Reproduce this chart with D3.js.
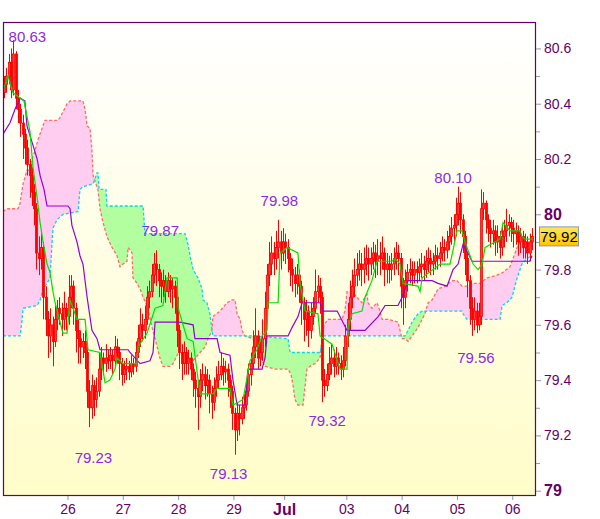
<!DOCTYPE html>
<html><head><meta charset="utf-8">
<script src="https://cdn.jsdelivr.net/npm/d3@7"></script>
<style>body{margin:0;background:#fff}svg{display:block}</style>
</head><body><svg id="c" width="600" height="519"></svg>
<script>
// ---------- DATA ----------
const firstOpen = 80.44;
const closes = [
80.47,80.50,80.55,80.45,80.58,80.42,80.38,80.33,80.29,80.24,
80.18,80.14,80.08,80.02,79.86,79.84,79.88,79.70,79.62,79.56,
79.60,79.54,79.62,79.66,79.64,79.62,79.66,79.63,79.70,79.74,
79.66,79.58,79.55,79.52,79.54,79.50,79.36,79.30,79.38,79.33,
79.36,79.44,79.48,79.46,79.48,79.47,79.49,79.47,79.52,79.50,
79.46,79.42,79.44,79.45,79.43,79.46,79.45,79.50,79.55,79.60,
79.58,79.62,79.70,79.72,79.78,79.82,79.80,79.76,79.74,79.76,
79.72,79.76,79.73,79.74,79.70,79.58,79.50,79.46,79.50,79.46,
79.48,79.44,79.40,79.37,79.34,79.40,79.42,79.38,79.40,79.35,
79.32,79.37,79.40,79.42,79.45,79.43,79.44,79.40,79.36,79.28,
79.22,79.28,79.26,79.30,79.31,79.36,79.42,79.46,79.52,79.56,
79.48,79.50,79.55,79.66,79.78,79.82,79.86,79.84,79.88,79.90,
79.86,79.90,79.88,79.84,79.80,79.78,79.75,79.78,79.74,79.68,
79.62,79.65,79.58,79.63,79.66,79.72,79.74,79.70,79.40,79.38,
79.42,79.46,79.48,79.45,79.48,79.46,79.44,79.47,79.56,79.62,
79.70,79.74,79.78,79.80,79.82,79.80,79.82,79.84,79.82,79.84,
79.86,79.83,79.85,79.84,79.86,79.80,79.82,79.80,79.82,79.84,
79.86,79.84,79.74,79.70,79.76,79.79,79.80,79.78,79.80,79.79,
79.81,79.82,79.80,79.83,79.84,79.82,79.83,79.85,79.84,79.86,
79.88,79.87,79.90,79.92,79.95,79.96,80.00,80.04,79.98,79.92,
79.84,79.76,79.66,79.62,79.65,79.60,79.63,80.02,80.04,79.98,
79.95,79.93,79.94,79.90,79.92,79.88,79.92,79.94,79.96,79.97,
79.95,79.93,79.94,79.90,79.92,79.88,79.90,79.86,79.90,79.92];
const highs = [
80.50,80.53,80.58,80.60,80.63,80.59,80.45,80.40,80.36,80.31,
80.27,80.20,80.17,80.11,80.04,79.92,79.93,79.90,79.74,79.65,
79.66,79.63,79.67,79.69,79.70,79.68,79.72,79.68,79.78,79.78,
79.76,79.68,79.62,79.58,79.57,79.58,79.52,79.40,79.42,79.40,
79.41,79.50,79.52,79.50,79.53,79.51,79.52,79.51,79.56,79.55,
79.52,79.48,79.47,79.48,79.47,79.49,79.48,79.54,79.60,79.66,
79.64,79.67,79.74,79.76,79.82,79.86,79.87,79.82,79.79,79.80,
79.78,79.79,79.78,79.77,79.76,79.72,79.60,79.53,79.54,79.52,
79.51,79.50,79.46,79.43,79.40,79.44,79.46,79.45,79.44,79.42,
79.38,79.41,79.45,79.47,79.50,79.48,79.47,79.46,79.42,79.38,
79.30,79.32,79.31,79.34,79.35,79.40,79.46,79.50,79.58,79.66,
79.58,79.54,79.62,79.72,79.82,79.90,79.92,79.90,79.94,79.98,
79.94,79.95,79.93,79.91,79.86,79.84,79.81,79.82,79.80,79.76,
79.70,79.69,79.67,79.68,79.70,79.80,79.78,79.77,79.72,79.44,
79.46,79.52,79.53,79.51,79.52,79.50,79.49,79.52,79.60,79.68,
79.76,79.80,79.84,79.86,79.87,79.86,79.88,79.89,79.88,79.88,
79.90,79.89,79.91,79.90,79.92,79.88,79.86,79.85,79.86,79.88,
79.90,79.89,79.86,79.77,79.80,79.82,79.84,79.83,79.83,79.83,
79.84,79.86,79.85,79.87,79.88,79.87,79.86,79.89,79.88,79.90,
79.92,79.91,79.94,79.96,79.99,80.00,80.06,80.10,80.08,80.00,
79.94,79.86,79.78,79.70,79.70,79.68,79.68,80.09,80.08,80.05,
80.00,79.98,79.98,79.96,79.96,79.94,79.96,79.98,80.02,80.00,
79.99,79.98,79.97,79.96,79.95,79.94,79.93,79.92,79.93,79.95];
const lows = [
80.42,80.44,80.47,80.42,80.43,80.38,80.33,80.28,80.20,80.18,
80.14,80.06,80.03,79.96,79.80,79.78,79.80,79.62,79.56,79.48,
79.50,79.45,79.52,79.58,79.60,79.56,79.58,79.58,79.60,79.66,
79.60,79.50,79.46,79.46,79.48,79.44,79.30,79.23,79.26,79.27,
79.30,79.34,79.40,79.42,79.43,79.44,79.44,79.42,79.45,79.46,
79.40,79.38,79.39,79.40,79.40,79.41,79.42,79.43,79.48,79.52,
79.54,79.55,79.60,79.66,79.70,79.75,79.74,79.70,79.68,79.70,
79.68,79.70,79.68,79.66,79.64,79.52,79.44,79.40,79.42,79.42,
79.42,79.40,79.34,79.30,79.22,79.30,79.36,79.33,79.34,79.28,
79.26,79.29,79.34,79.37,79.40,79.38,79.39,79.34,79.30,79.22,
79.13,79.18,79.20,79.24,79.26,79.29,79.34,79.38,79.44,79.48,
79.44,79.45,79.47,79.52,79.62,79.74,79.78,79.78,79.80,79.84,
79.80,79.83,79.82,79.79,79.74,79.72,79.70,79.71,79.68,79.60,
79.54,79.56,79.52,79.55,79.60,79.64,79.68,79.64,79.32,79.34,
79.36,79.40,79.42,79.41,79.42,79.42,79.40,79.41,79.45,79.52,
79.58,79.66,79.70,79.74,79.76,79.74,79.75,79.78,79.76,79.78,
79.80,79.77,79.78,79.78,79.80,79.74,79.75,79.75,79.76,79.78,
79.80,79.78,79.66,79.60,79.66,79.72,79.75,79.74,79.75,79.75,
79.76,79.77,79.76,79.77,79.79,79.78,79.78,79.80,79.80,79.81,
79.83,79.83,79.84,79.87,79.89,79.90,79.92,79.96,79.93,79.86,
79.78,79.70,79.60,79.56,79.58,79.57,79.58,79.60,79.98,79.93,
79.90,79.88,79.89,79.85,79.86,79.84,79.85,79.88,79.90,79.92,
79.90,79.88,79.89,79.85,79.86,79.84,79.84,79.82,79.83,79.87];

// Ichimoku lines: [candle index, price]
const tenkan = [[0,80.45],[2.2,80.50],[4.3,80.44],[9.1,80.41],[11.7,80.30],[13.0,80.17],[14.8,80.06],[16.1,79.97],[17.4,79.90],[19.1,79.82],[20.4,79.79],[21.7,79.72],[22.6,79.68],[23.9,79.64],[26.0,79.57],[27.8,79.57],[29.1,79.69],[30.4,79.66],[32.1,79.62],[35.6,79.62],[36.9,79.51],[42.1,79.50],[44.3,79.39],[46.4,79.40],[48.6,79.44],[49.5,79.48],[52.1,79.46],[58.2,79.46],[58.6,79.52],[62.5,79.57],[66.0,79.66],[69.4,79.67],[71.2,79.77],[75.6,79.77],[76.0,79.66],[79.9,79.55],[82.5,79.54],[85.5,79.35],[91.1,79.35],[92.9,79.37],[98.5,79.37],[99.8,79.31],[104.2,79.33],[107.2,79.47],[110.2,79.51],[112.4,79.56],[114.6,79.58],[115.0,79.68],[119.4,79.68],[120.2,79.86],[123.3,79.88],[128.0,79.86],[128.9,79.75],[131.1,79.65],[136.7,79.64],[137.6,79.56],[142.8,79.53],[146.3,79.44],[149.3,79.44],[149.7,79.59],[151.5,79.64],[155.8,79.65],[157.1,79.70],[160.1,79.76],[162.3,79.83],[168.8,79.83],[170.1,79.84],[172.3,79.82],[173.6,79.75],[180.1,79.74],[181.0,79.72],[181.9,79.77],[189.7,79.82],[194.0,79.82],[195.3,79.87],[197.0,79.94],[199.2,79.94],[200.5,79.90],[201.8,79.87],[204.0,79.82],[206.2,79.80],[207.9,79.82],[209.2,79.88],[215.7,79.91],[217.0,79.97],[220.0,79.94],[224.4,79.94],[225.2,79.92],[226.5,79.91],[229.5,79.91]];
const kijun = [[0,80.29],[3.0,80.33],[5.2,80.38],[7.4,80.42],[9.5,80.41],[10.4,80.32],[13.0,80.25],[14.8,80.20],[16.1,80.14],[17.8,80.09],[19.1,80.03],[28.2,80.03],[29.1,80.02],[29.9,79.96],[32.1,79.90],[33.4,79.85],[34.7,79.82],[36.5,79.70],[38.6,79.58],[40.8,79.55],[42.1,79.51],[54.3,79.51],[55.1,79.50],[59.5,79.46],[63.8,79.47],[65.1,79.50],[66.0,79.61],[76.8,79.61],[82.5,79.60],[83.3,79.55],[92.9,79.55],[94.2,79.50],[98.5,79.49],[99.8,79.40],[101.6,79.31],[105.0,79.31],[106.3,79.44],[112.4,79.44],[113.7,79.48],[114.6,79.56],[123.7,79.56],[125.4,79.59],[128.0,79.63],[129.8,79.68],[137.6,79.68],[138.9,79.65],[145.0,79.65],[149.3,79.58],[157.1,79.58],[162.8,79.63],[165.8,79.67],[171.4,79.67],[173.2,79.70],[175.8,79.76],[186.2,79.76],[188.8,79.75],[192.7,79.74],[195.3,79.80],[197.5,79.82],[199.6,79.89],[201.8,79.86],[203.5,79.83],[228.6,79.83],[229.5,79.85]];
const spanA = [[0,80.01],[1.7,80.02],[6.5,80.02],[7.4,80.04],[8.7,80.11],[10.4,80.16],[11.7,80.16],[12.6,80.20],[13.9,80.23],[15.2,80.27],[16.9,80.31],[18.2,80.34],[23.9,80.34],[24.7,80.35],[26.0,80.37],[27.8,80.40],[29.1,80.41],[30.4,80.41],[32.6,80.41],[33.4,80.41],[34.7,80.41],[35.6,80.38],[36.5,80.32],[37.8,80.31],[38.6,80.23],[39.1,80.14],[41.2,80.09],[42.1,80.02],[43.4,79.97],[45.1,79.92],[47.3,79.88],[49.5,79.85],[50.8,79.81],[52.1,79.82],[53.8,79.83],[54.3,79.88],[56.0,79.86],[56.4,79.77],[58.2,79.75],[59.5,79.73],[60.8,79.70],[62.9,79.66],[64.7,79.59],[66.0,79.55],[68.1,79.48],[69.4,79.45],[72.5,79.45],[73.8,79.46],[76.8,79.51],[79.9,79.48],[82.5,79.47],[85.5,79.50],[87.7,79.52],[89.0,79.55],[90.7,79.58],[91.1,79.63],[94.2,79.65],[97.2,79.68],[99.4,79.69],[100.7,79.69],[101.6,79.64],[102.9,79.62],[103.7,79.58],[105.0,79.56],[108.5,79.55],[110.7,79.51],[112.4,79.47],[113.7,79.45],[118.0,79.44],[123.7,79.44],[125.0,79.42],[125.9,79.38],[126.7,79.33],[128.0,79.31],[130.2,79.31],[131.1,79.38],[131.9,79.44],[133.2,79.45],[135.4,79.46],[137.6,79.48],[138.4,79.55],[139.3,79.60],[141.1,79.62],[147.1,79.62],[148.4,79.65],[149.3,79.72],[151.5,79.72],[153.6,79.70],[155.8,79.68],[157.1,79.70],[158.0,79.71],[158.4,79.68],[160.1,79.66],[162.3,79.68],[163.6,79.65],[164.5,79.62],[167.1,79.62],[171.4,79.61],[173.2,79.55],[174.5,79.55],[175.8,79.54],[177.5,79.56],[180.1,79.59],[181.9,79.62],[183.1,79.64],[184.5,79.68],[186.2,79.69],[188.8,79.73],[191.8,79.74],[194.9,79.76],[197.0,79.76],[199.2,79.74],[201.4,79.74],[203.5,79.75],[207.0,79.75],[210.1,79.77],[214.4,79.78],[217.0,79.79],[220.0,79.81],[223.1,79.88],[224.4,79.90],[226.5,79.90],[228.6,79.89]];
const spanB = [[0,79.56],[7.4,79.56],[8.2,79.61],[8.7,79.66],[14.8,79.67],[16.1,79.69],[17.4,79.73],[19.1,79.75],[20.4,79.77],[21.3,79.90],[21.7,79.95],[23.4,79.98],[26.0,80.00],[32.6,80.01],[33.4,80.09],[34.7,80.10],[39.1,80.11],[40.8,80.15],[41.2,80.15],[41.7,80.09],[44.7,80.09],[45.1,80.03],[60.8,80.03],[61.6,79.93],[79.0,79.93],[80.3,79.89],[81.2,79.85],[82.5,79.80],[84.6,79.77],[86.4,79.73],[86.8,79.69],[88.5,79.68],[89.8,79.64],[90.7,79.58],[91.1,79.56],[108.5,79.56],[123.7,79.55],[124.6,79.50],[137.6,79.50],[138.9,79.56],[174.5,79.56],[175.8,79.58],[177.5,79.61],[180.1,79.64],[181.9,79.65],[199.2,79.65],[199.6,79.64],[201.4,79.62],[215.7,79.62],[216.6,79.67],[218.7,79.68],[220.9,79.70],[223.1,79.77],[225.2,79.82],[227.4,79.84],[229.5,79.85]];

const dayTickIdx = [28,52,76,100,122,149,173,197,221];
const dayTickLabels = ["26","27","28","29","Jul","03","04","05","06"];
const priceTicks = [79.0,79.2,79.4,79.6,79.8,80.0,80.2,80.4,80.6];
const priceMinorTicks = [79.1,79.3,79.5,79.7,79.9,80.1,80.3,80.5];
const extremeLabels = ["80.63","79.23","79.87","79.13","79.98","79.32","80.10","79.56"];
const extremeIdx = [4,37,66,100,119,138,197,203];
const extremeValues = [80.63,79.23,79.87,79.13,79.98,79.32,80.10,79.56];
const lastPrice = 79.92;

// ---------- LAYOUT ----------
const L = 3, R = 535, T = 22, B = 495;
const nCandles = closes.length;
const extremeOffsets = [[14,2],[4,36],[4,-14],[-6,24],[1,-14],[5,24],[-5,-4],[4,27]];
const C = {candle:"#ff0000", tenkan:"#00e000", kijun:"#9400d3", spanA:"#ff6a6a", spanB:"#00d8ee",
  pink:"#ffcdef", green:"#b3ff9f", frame:"#660066", tick:"#8899aa", ann:"#8a2be2"};
const FONT = "'Liberation Sans', Arial, sans-serif";

const svg = d3.select("#c");
const x = d3.scaleLinear().domain([0, nCandles]).range([L, 533]);
const y = d3.scaleLinear().domain([79.0, 80.2]).range([490.7, 159]);

const defs = svg.append("defs");
const grad = defs.append("linearGradient").attr("id","bg").attr("x1",0).attr("y1",0).attr("x2",0).attr("y2",1);
grad.append("stop").attr("offset","0%").attr("stop-color","#ffffff");
grad.append("stop").attr("offset","100%").attr("stop-color","#fffdc9");
const ygrad = defs.append("linearGradient").attr("id","yb").attr("x1",0).attr("y1",0).attr("x2",0).attr("y2",1);
ygrad.append("stop").attr("offset","0%").attr("stop-color","#ffe85a");
ygrad.append("stop").attr("offset","100%").attr("stop-color","#ffc400");
defs.append("clipPath").attr("id","plot").append("rect").attr("x",L).attr("y",T).attr("width",R-L).attr("height",B-T);

svg.append("rect").attr("x",L).attr("y",T).attr("width",R-L).attr("height",B-T).attr("fill","url(#bg)");

const areaUp = d3.area().x(d=>x(d[0])).y0(T).y1(d=>y(d[1]));
const areaDown = d3.area().x(d=>x(d[0])).y0(B).y1(d=>y(d[1]));
defs.append("clipPath").attr("id","belowA").append("path").attr("d", areaDown(spanA));
defs.append("clipPath").attr("id","aboveA").append("path").attr("d", areaUp(spanA));

const g = svg.append("g").attr("clip-path","url(#plot)");
g.append("path").attr("d", areaUp(spanB)).attr("fill", C.pink).attr("clip-path","url(#belowA)");
g.append("path").attr("d", areaDown(spanB)).attr("fill", C.green).attr("clip-path","url(#aboveA)");

const line = d3.line().x(d=>x(d[0])).y(d=>y(d[1]));
g.append("path").attr("d", line(spanA)).attr("fill","none").attr("stroke",C.spanA).attr("stroke-width",1.3).attr("stroke-dasharray","3,2");
g.append("path").attr("d", line(spanB)).attr("fill","none").attr("stroke",C.spanB).attr("stroke-width",1.3).attr("stroke-dasharray","3,2");

// candles
const candles = closes.map((c,i)=>({i, o: i===0 ? firstOpen : closes[i-1], c, h: highs[i], l: lows[i]}));
const cg = g.append("g");
cg.selectAll("line.w").data(candles).join("line")
  .attr("x1", d=>Math.round(x(d.i+0.5))+0.5).attr("x2", d=>Math.round(x(d.i+0.5))+0.5)
  .attr("y1", d=>y(d.h)).attr("y2", d=>y(d.l)).attr("stroke", C.candle).attr("stroke-width",1);
cg.selectAll("rect.b").data(candles).join("rect")
  .attr("x", d=>Math.round(x(d.i+0.5))-0.5)
  .attr("width", 2)
  .attr("y", d=>y(Math.max(d.o,d.c)))
  .attr("height", d=>Math.max(1, Math.abs(y(d.o)-y(d.c))))
  .attr("fill", d=> d.c>=d.o ? "#ff4040" : C.candle)
  .attr("stroke", C.candle).attr("stroke-width",0.8);

g.append("path").attr("d", line(kijun)).attr("fill","none").attr("stroke",C.kijun).attr("stroke-width",1.2);
g.append("path").attr("d", line(tenkan)).attr("fill","none").attr("stroke",C.tenkan).attr("stroke-width",1.2);

// extreme labels
svg.append("g").selectAll("text").data(extremeLabels).join("text")
  .attr("x",(d,i)=>x(extremeIdx[i]+0.5)+extremeOffsets[i][0])
  .attr("y",(d,i)=>y(extremeValues[i])+extremeOffsets[i][1])
  .attr("text-anchor","middle").attr("font-family",FONT).attr("font-size",15).attr("fill",C.ann)
  .text(d=>d);

// frame
svg.append("rect").attr("x",L+0.5).attr("y",T+0.5).attr("width",R-L).attr("height",B-T)
  .attr("fill","none").attr("stroke",C.frame).attr("stroke-width",1.2);

// y axis
const isInt = d => Math.abs(d-Math.round(d))<1e-6;
const yAxis = d3.axisRight(y).tickValues(priceTicks).tickSize(5).tickPadding(3)
  .tickFormat(d=> isInt(d) ? String(Math.round(d)) : d.toFixed(1));
const ya = svg.append("g").attr("transform",`translate(${R+1},0)`).call(yAxis);
ya.select(".domain").remove();
ya.selectAll("line").attr("stroke",C.tick);
ya.selectAll("text").attr("font-family",FONT).attr("fill",C.frame)
  .attr("font-size", d=> isInt(d) ? 16 : 14)
  .attr("font-weight", d=> isInt(d) ? "bold" : "normal");
const yMinor = d3.axisRight(y).tickValues(priceMinorTicks).tickSize(4).tickFormat("");
const ym = svg.append("g").attr("transform",`translate(${R+1},0)`).call(yMinor);
ym.select(".domain").remove();
ym.selectAll("line").attr("stroke",C.tick);

// x axis
const xAxis = d3.axisBottom(x).tickValues(dayTickIdx).tickSize(4).tickPadding(4)
  .tickFormat((d,i)=>dayTickLabels[i]);
const xa = svg.append("g").attr("transform",`translate(0,${B+1})`).call(xAxis);
xa.select(".domain").remove();
xa.selectAll("line").attr("stroke",C.tick);
xa.selectAll("text").attr("font-family",FONT).attr("fill",C.frame)
  .attr("font-size",(d,i)=> dayTickLabels[i]==="Jul" ? 16 : 14)
  .attr("font-weight",(d,i)=> dayTickLabels[i]==="Jul" ? "bold" : "normal");

// last price box
const lp = svg.append("g").attr("transform",`translate(539,${y(lastPrice)})`);
lp.append("rect").attr("x",0.5).attr("y",-9.5).attr("width",39).attr("height",19)
  .attr("fill","url(#yb)").attr("stroke","#8899aa").attr("stroke-width",1);
lp.append("text").attr("x",20).attr("y",5.5).attr("text-anchor","middle")
  .attr("font-family",FONT).attr("font-size",15).attr("fill","#000").text(lastPrice.toFixed(2));
</script></body></html>
